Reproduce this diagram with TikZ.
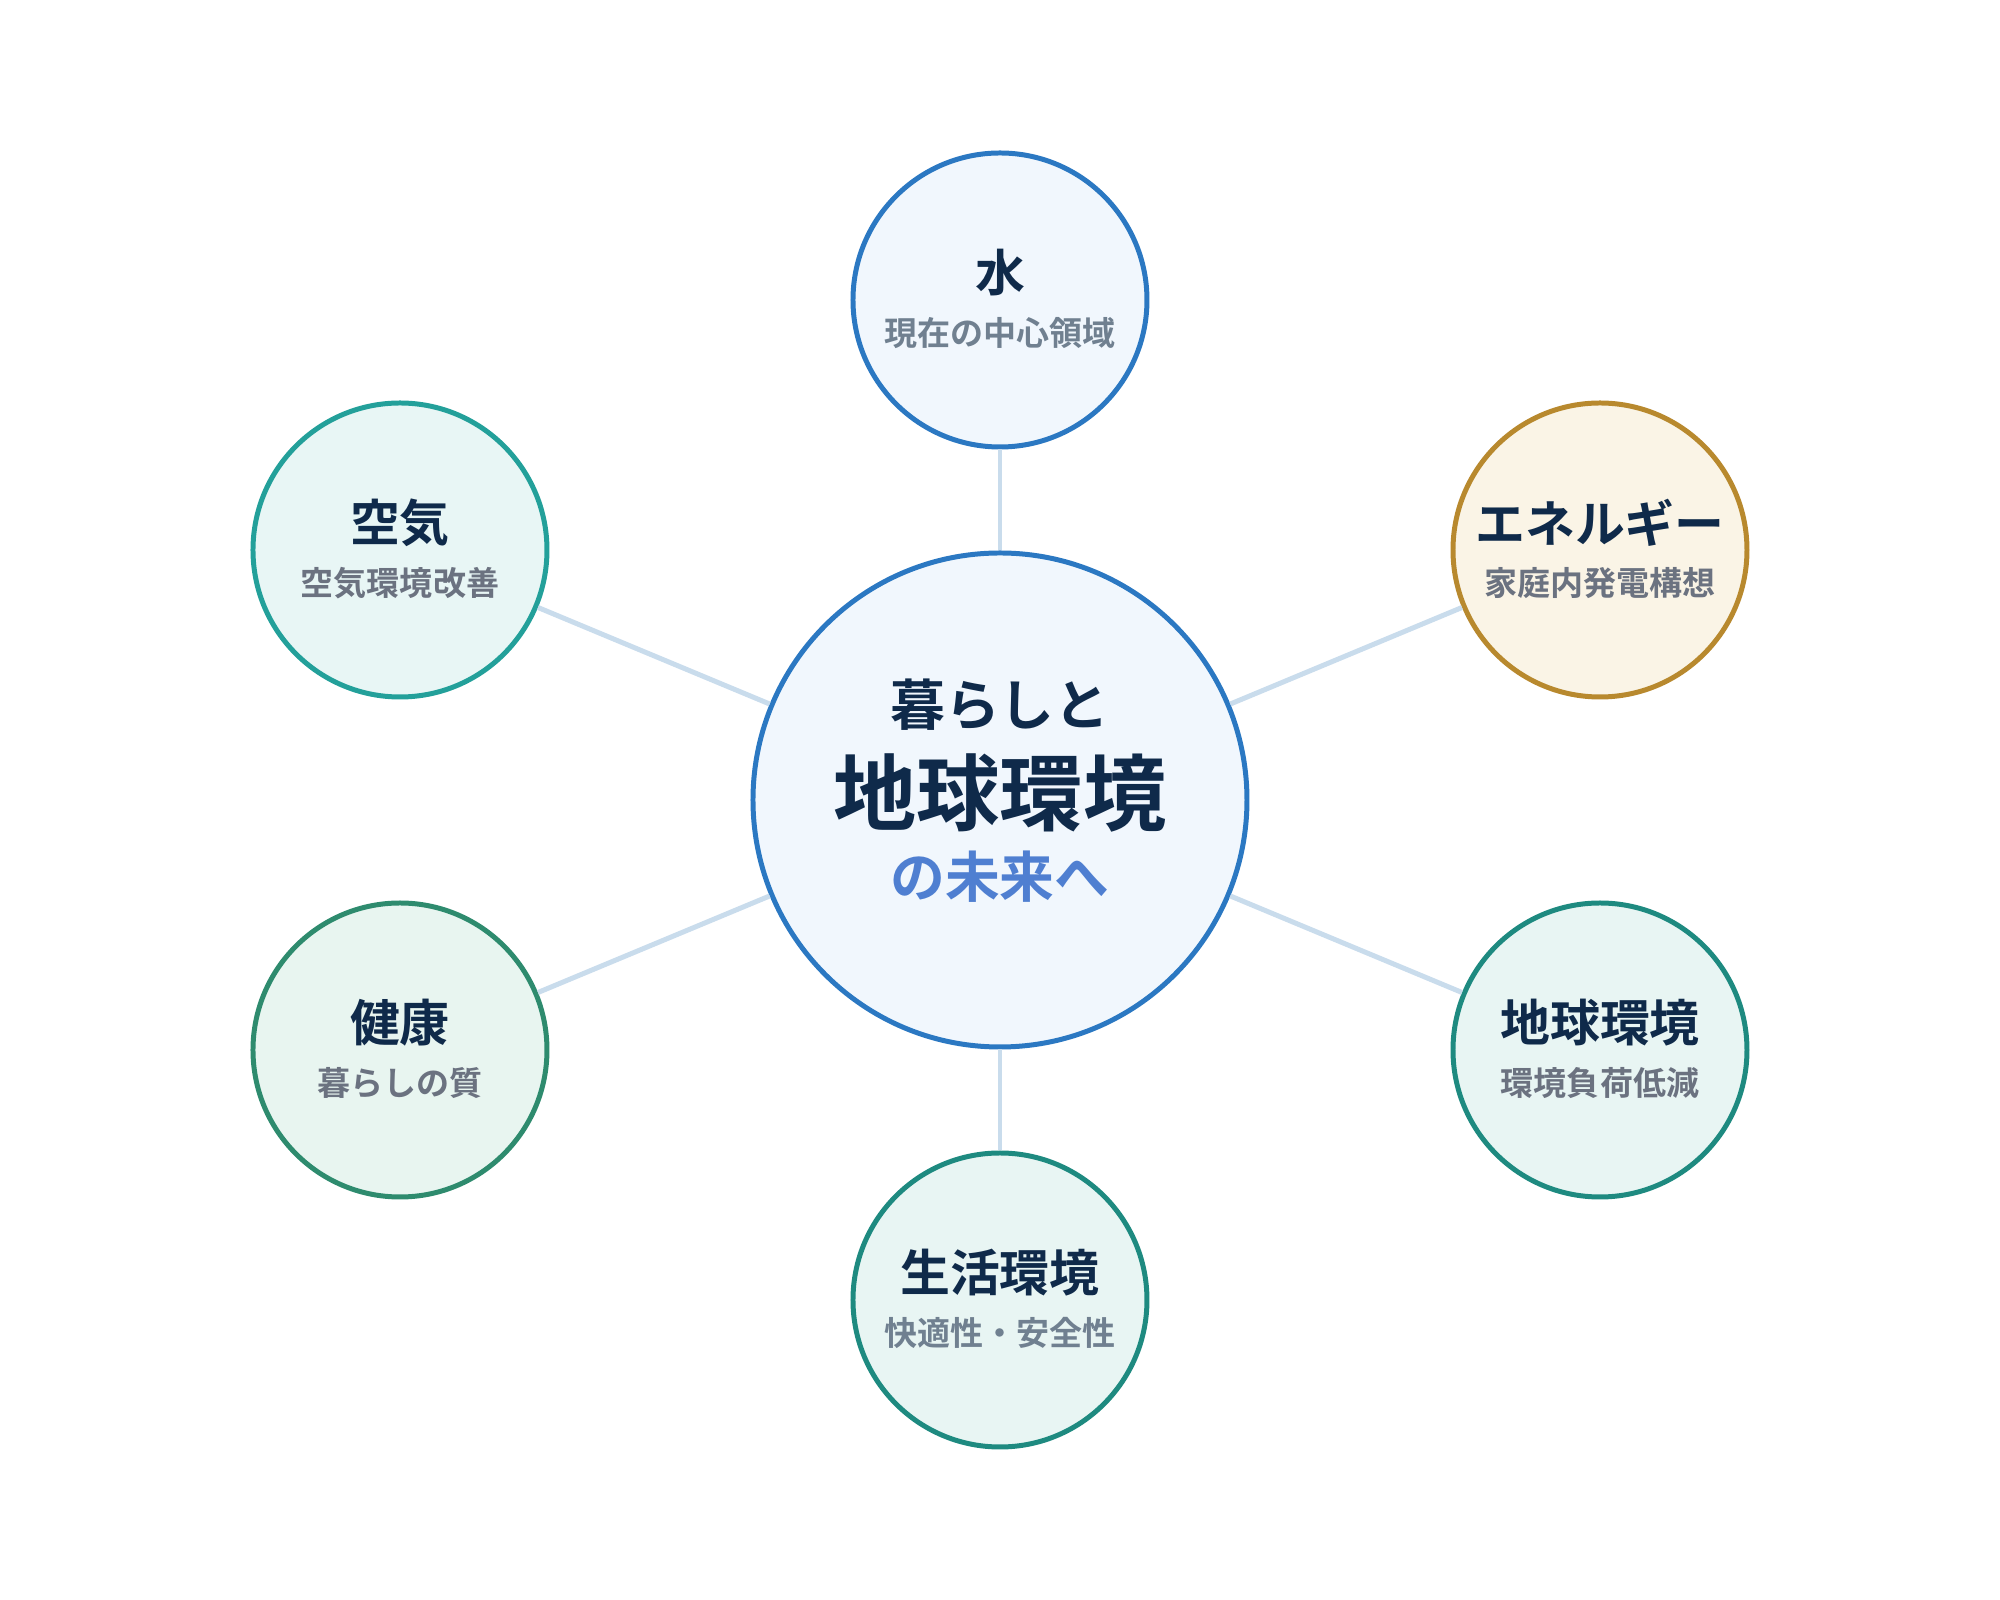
\documentclass[tikz,border=0pt]{standalone}
\usepackage{fontspec}
\setmainfont{Noto Sans CJK JP}[BoldFont={Noto Sans CJK JP Bold}]
\usepackage{tikz}
\usetikzlibrary{positioning,calc}
\definecolor{navy}{RGB}{15, 42, 74}
\definecolor{subgray}{RGB}{107, 114, 128}
\definecolor{slategray}{RGB}{112, 128, 144}
\definecolor{linkblue}{RGB}{201, 220, 236}
\definecolor{waterblue}{RGB}{43, 120, 194}
\definecolor{waterfill}{RGB}{241, 247, 253}
\definecolor{futureblue}{RGB}{79, 127, 209}
\definecolor{airteal}{RGB}{35, 160, 154}
\definecolor{airfill}{RGB}{232, 246, 245}
\definecolor{energygold}{RGB}{184, 137, 46}
\definecolor{energyfill}{RGB}{250, 244, 230}
\definecolor{healthgreen}{RGB}{46, 139, 110}
\definecolor{healthfill}{RGB}{232, 245, 240}
\definecolor{earthteal}{RGB}{30, 138, 128}
\definecolor{earthfill}{RGB}{232, 245, 243}

\begin{document}
\begin{tikzpicture}[
  hub/.style={circle, draw=waterblue, fill=waterfill, line width=1.42pt,
    minimum size=4.94cm, inner sep=0pt},
  topic/.style={circle, line width=1.42pt, minimum size=2.94cm, inner sep=0pt},
  link/.style={linkblue, line width=1.42pt},
  title/.style={navy, font=\bfseries\fontsize{14.2}{17}\selectfont, inner sep=0pt},
  subtitle/.style={subgray, font=\bfseries\fontsize{9.4}{11}\selectfont, inner sep=0pt}
]
  \useasboundingbox (-10,-8) rectangle (10,8);

  % Hub and topics
  \node[hub] (hub) at (0,0) {};
  \node[topic, draw=waterblue, fill=waterfill] (water) at (0,5) {};
  \node[topic, draw=airteal, fill=airfill] (air) at (-6,2.5) {};
  \node[topic, draw=energygold, fill=energyfill] (energy) at (6,2.5) {};
  \node[topic, draw=healthgreen, fill=healthfill] (health) at (-6,-2.5) {};
  \node[topic, draw=earthteal, fill=earthfill] (earth) at (6,-2.5) {};
  \node[topic, draw=earthteal, fill=earthfill] (life) at (0,-5) {};

  % Links
  \foreach \t in {water, air, energy, health, earth, life}
    \draw[link] (hub) -- (\t);

  % Hub text
  \node[navy, font=\bfseries\fontsize{15.6}{18}\selectfont, inner sep=0pt]
    (hubtop) at ($(hub)+(0,0.95)$) {暮らしと};
  \node[navy, font=\bfseries\fontsize{23.7}{28}\selectfont, inner sep=0pt]
    (hubmain) at ($(hub)+(0,0.07)$) {地球環境};
  \node[futureblue, font=\bfseries\fontsize{15.6}{18}\selectfont, inner sep=0pt]
    (hubbottom) at ($(hub)+(0,-0.77)$) {の未来へ};

  % Topic text
  \node[title] (watert) at ($(water)+(0,0.27)$) {水};
  \node[subtitle, slategray] (waters) at ($(water)+(0,-0.33)$) {現在の中心領域};
  \node[title] (airt) at ($(air)+(0,0.27)$) {空気};
  \node[subtitle] (airs) at ($(air)+(0,-0.33)$) {空気環境改善};
  \node[title] (energyt) at ($(energy)+(0,0.27)$) {エネルギー};
  \node[subtitle] (energys) at ($(energy)+(0,-0.33)$) {家庭内発電構想};
  \node[title] (healtht) at ($(health)+(0,0.27)$) {健康};
  \node[subtitle] (healths) at ($(health)+(0,-0.33)$) {暮らしの質};
  \node[title] (eartht) at ($(earth)+(0,0.27)$) {地球環境};
  \node[subtitle] (earths) at ($(earth)+(0,-0.33)$) {環境負荷低減};
  \node[title] (lifet) at ($(life)+(0,0.27)$) {生活環境};
  \node[subtitle, slategray] (lifes) at ($(life)+(0,-0.33)$) {快適性・安全性};
\end{tikzpicture}
\end{document}
